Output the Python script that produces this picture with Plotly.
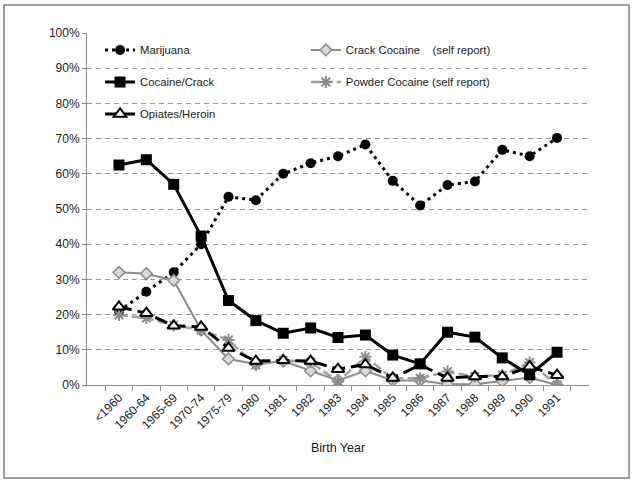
import plotly.graph_objects as go

categories = ["<1960", "1960-64", "1965-69", "1970-74", "1975-79", "1980", "1981", "1982",
              "1983", "1984", "1985", "1986", "1987", "1988", "1989", "1990", "1991"]

marijuana = [21.0, 26.5, 32.0, 40.0, 53.5, 52.5, 60.0, 63.0, 65.0, 68.3, 58.0, 51.0, 56.8, 57.8, 66.8, 65.0, 70.2]
cocaine_crack = [62.5, 64.0, 57.0, 42.3, 24.0, 18.3, 14.7, 16.2, 13.5, 14.2, 8.5, 6.0, 15.0, 13.6, 7.7, 2.9, 9.3]
opiates = [22.2, 20.4, 16.8, 16.5, 10.5, 6.8, 7.0, 6.8, 4.5, 5.8, 2.0, 5.7, 2.0, 2.4, 2.4, 5.2, 2.8]
crack_self = [32.0, 31.6, 29.7, 15.6, 7.4, 6.0, 6.8, 4.0, 1.3, 4.0, 1.3, 1.3, 0.2, 0.2, 1.1, 2.1, 0.0]
powder_self = [19.9, 19.0, 17.0, 15.6, 12.8, 5.7, 7.0, 6.5, 1.0, 8.0, 1.9, 1.9, 3.8, 2.4, 2.8, 6.4, 0.0]

y_ticks = [0, 10, 20, 30, 40, 50, 60, 70, 80, 90, 100]

FONT = "Liberation Sans, Arial, sans-serif"

fig = go.Figure()

fig.add_trace(go.Scatter(
    x=categories, y=marijuana, name="Marijuana", mode="lines+markers",
    line=dict(color="black", width=3, dash="3px,4px"),
    marker=dict(symbol="circle", size=10, color="black"),
    legend="legend", legendgroup="a", legendrank=1))

fig.add_trace(go.Scatter(
    x=categories, y=crack_self, name="Crack Cocaine\u00a0\u00a0\u00a0\u00a0(self report)",
    mode="lines+markers",
    line=dict(color="#8c8c8c", width=2),
    marker=dict(symbol="diamond", size=9, color="#d9d9d9", line=dict(color="#8c8c8c", width=1.5)),
    legend="legend2", legendgroup="d", legendrank=4))

fig.add_trace(go.Scatter(
    x=categories, y=powder_self, name="Powder Cocaine (self report)", mode="lines+markers",
    line=dict(color="#a0a0a0", width=2.5, dash="9px,4px"),
    marker=dict(symbol="asterisk-open", size=10, color="#8c8c8c", line=dict(color="#8c8c8c", width=2)),
    legend="legend2", legendgroup="e", legendrank=5))

fig.add_trace(go.Scatter(
    x=categories, y=opiates, name="Opiates/Heroin", mode="lines+markers",
    line=dict(color="black", width=3, dash="13px,6px"),
    marker=dict(symbol="triangle-up", size=11, color="white", line=dict(color="black", width=2)),
    legend="legend", legendgroup="c", legendrank=3))

fig.add_trace(go.Scatter(
    x=categories, y=cocaine_crack, name="Cocaine/Crack", mode="lines+markers",
    line=dict(color="black", width=3),
    marker=dict(symbol="square", size=11, color="black"),
    legend="legend", legendgroup="b", legendrank=2))

legend_common = dict(
    orientation="v", bgcolor="rgba(0,0,0,0)", borderwidth=0,
    font=dict(family=FONT, size=11.3, color="#1a1a1a"),
    itemwidth=30, tracegroupgap=13, xanchor="left", yanchor="top",
    traceorder="grouped")

fig.update_layout(
    width=635, height=483,
    margin=dict(l=87, r=46, t=33, b=98, autoexpand=False),
    paper_bgcolor="white", plot_bgcolor="white",
    font=dict(family=FONT, size=12, color="#1a1a1a"),
    showlegend=True,
    legend=dict(x=0.026, y=0.993, **legend_common),
    legend2=dict(x=0.436, y=0.993, **legend_common),
    xaxis=dict(
        type="category", categoryorder="array", categoryarray=categories,
        tickangle=-45, tickfont=dict(size=12, family=FONT, color="#1a1a1a"),
        showline=True, linecolor="#8c8c8c", linewidth=1,
        ticks="outside", ticklen=5, tickcolor="#8c8c8c", tickson="boundaries",
        showgrid=False, zeroline=False, automargin=False,
        title=dict(text="Birth Year", font=dict(size=12.5, family=FONT, color="#1a1a1a"), standoff=12),
    ),
    yaxis=dict(
        range=[0, 100], tickvals=y_ticks, ticktext=[f"{v}%" for v in y_ticks],
        tickfont=dict(size=12, family=FONT, color="#1a1a1a"),
        showline=True, linecolor="#8c8c8c", linewidth=1,
        ticks="outside", ticklen=4, tickcolor="#8c8c8c",
        showgrid=True, gridcolor="#999999", gridwidth=1, griddash="5px,4px",
        zeroline=False, automargin=False,
    ),
    shapes=[dict(type="rect", xref="paper", yref="paper",
                 x0=-83/502, x1=542/502, y0=-93/352, y1=1 + 28/352,
                 line=dict(color="#7f7f7f", width=1.5), layer="below")],
)

fig.write_html("out.html", config={"displayModeBar": False},
               post_script="document.body.style.margin='0';")
